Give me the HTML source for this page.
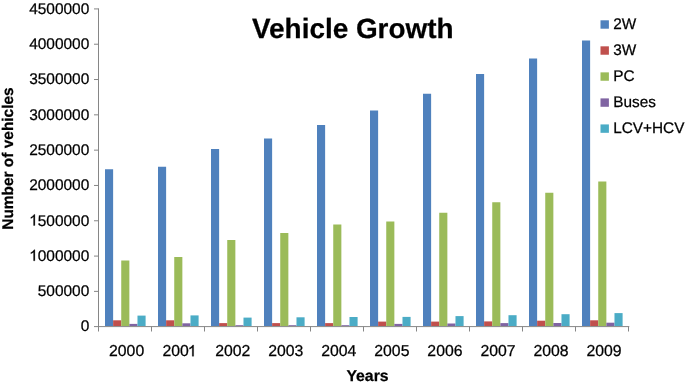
<!DOCTYPE html>
<html><head><meta charset="utf-8"><title>Vehicle Growth</title>
<style>
html,body{margin:0;padding:0;background:#fff;}
body{width:685px;height:384px;overflow:hidden;position:relative;}
svg{position:absolute;left:0;top:0;display:block;will-change:transform;}
text{font-family:"Liberation Sans",sans-serif;fill:#000;stroke:#000;stroke-width:0.25px;text-rendering:geometricPrecision;}
.b{font-weight:bold;}
</style></head><body>
<svg width="685" height="384" viewBox="0 0 685 384">
<rect x="0" y="0" width="685" height="384" fill="#ffffff"/>
<rect x="105.00" y="169.25" width="8.12" height="156.75" fill="#4F81BD"/><rect x="113.12" y="320.30" width="8.12" height="5.70" fill="#C0504D"/><rect x="121.24" y="260.50" width="8.12" height="65.50" fill="#9BBB59"/><rect x="129.36" y="323.90" width="8.12" height="2.10" fill="#8064A2"/><rect x="137.48" y="315.60" width="8.12" height="10.40" fill="#4BACC6"/>
<rect x="158.00" y="166.75" width="8.12" height="159.25" fill="#4F81BD"/><rect x="166.12" y="320.30" width="8.12" height="5.70" fill="#C0504D"/><rect x="174.24" y="257.00" width="8.12" height="69.00" fill="#9BBB59"/><rect x="182.36" y="323.30" width="8.12" height="2.70" fill="#8064A2"/><rect x="190.48" y="315.40" width="8.12" height="10.60" fill="#4BACC6"/>
<rect x="211.00" y="149.00" width="8.12" height="177.00" fill="#4F81BD"/><rect x="219.12" y="323.10" width="8.12" height="2.90" fill="#C0504D"/><rect x="227.24" y="240.00" width="8.12" height="86.00" fill="#9BBB59"/><rect x="235.36" y="325.20" width="8.12" height="0.80" fill="#8064A2"/><rect x="243.48" y="317.60" width="8.12" height="8.40" fill="#4BACC6"/>
<rect x="264.00" y="138.50" width="8.12" height="187.50" fill="#4F81BD"/><rect x="272.12" y="323.10" width="8.12" height="2.90" fill="#C0504D"/><rect x="280.24" y="233.00" width="8.12" height="93.00" fill="#9BBB59"/><rect x="288.36" y="325.20" width="8.12" height="0.80" fill="#8064A2"/><rect x="296.48" y="317.30" width="8.12" height="8.70" fill="#4BACC6"/>
<rect x="317.00" y="125.00" width="8.12" height="201.00" fill="#4F81BD"/><rect x="325.12" y="323.10" width="8.12" height="2.90" fill="#C0504D"/><rect x="333.24" y="224.50" width="8.12" height="101.50" fill="#9BBB59"/><rect x="341.36" y="325.20" width="8.12" height="0.80" fill="#8064A2"/><rect x="349.48" y="317.00" width="8.12" height="9.00" fill="#4BACC6"/>
<rect x="370.00" y="110.50" width="8.12" height="215.50" fill="#4F81BD"/><rect x="378.12" y="321.60" width="8.12" height="4.40" fill="#C0504D"/><rect x="386.24" y="221.50" width="8.12" height="104.50" fill="#9BBB59"/><rect x="394.36" y="323.90" width="8.12" height="2.10" fill="#8064A2"/><rect x="402.48" y="316.90" width="8.12" height="9.10" fill="#4BACC6"/>
<rect x="423.00" y="93.75" width="8.12" height="232.25" fill="#4F81BD"/><rect x="431.12" y="321.60" width="8.12" height="4.40" fill="#C0504D"/><rect x="439.24" y="212.75" width="8.12" height="113.25" fill="#9BBB59"/><rect x="447.36" y="323.50" width="8.12" height="2.50" fill="#8064A2"/><rect x="455.48" y="316.10" width="8.12" height="9.90" fill="#4BACC6"/>
<rect x="476.00" y="74.00" width="8.12" height="252.00" fill="#4F81BD"/><rect x="484.12" y="321.40" width="8.12" height="4.60" fill="#C0504D"/><rect x="492.24" y="202.25" width="8.12" height="123.75" fill="#9BBB59"/><rect x="500.36" y="323.10" width="8.12" height="2.90" fill="#8064A2"/><rect x="508.48" y="315.20" width="8.12" height="10.80" fill="#4BACC6"/>
<rect x="529.00" y="58.50" width="8.12" height="267.50" fill="#4F81BD"/><rect x="537.12" y="320.70" width="8.12" height="5.30" fill="#C0504D"/><rect x="545.24" y="192.75" width="8.12" height="133.25" fill="#9BBB59"/><rect x="553.36" y="323.00" width="8.12" height="3.00" fill="#8064A2"/><rect x="561.48" y="314.20" width="8.12" height="11.80" fill="#4BACC6"/>
<rect x="582.00" y="40.50" width="8.12" height="285.50" fill="#4F81BD"/><rect x="590.12" y="320.30" width="8.12" height="5.70" fill="#C0504D"/><rect x="598.24" y="181.50" width="8.12" height="144.50" fill="#9BBB59"/><rect x="606.36" y="322.70" width="8.12" height="3.30" fill="#8064A2"/><rect x="614.48" y="313.10" width="8.12" height="12.90" fill="#4BACC6"/>
<g stroke="#868686" stroke-width="1" fill="none"><line x1="98.50" y1="8.4" x2="98.50" y2="327.10"/><line x1="94" y1="326.60" x2="629.3" y2="326.60"/><line x1="94" y1="291.39" x2="98.50" y2="291.39"/><line x1="94" y1="256.08" x2="98.50" y2="256.08"/><line x1="94" y1="220.77" x2="98.50" y2="220.77"/><line x1="94" y1="185.46" x2="98.50" y2="185.46"/><line x1="94" y1="150.15" x2="98.50" y2="150.15"/><line x1="94" y1="114.84" x2="98.50" y2="114.84"/><line x1="94" y1="79.53" x2="98.50" y2="79.53"/><line x1="94" y1="44.22" x2="98.50" y2="44.22"/><line x1="94" y1="8.91" x2="98.50" y2="8.91"/><line x1="98.50" y1="326.50" x2="98.50" y2="331.5"/><line x1="151.50" y1="326.50" x2="151.50" y2="331.5"/><line x1="204.50" y1="326.50" x2="204.50" y2="331.5"/><line x1="257.50" y1="326.50" x2="257.50" y2="331.5"/><line x1="310.50" y1="326.50" x2="310.50" y2="331.5"/><line x1="363.50" y1="326.50" x2="363.50" y2="331.5"/><line x1="416.50" y1="326.50" x2="416.50" y2="331.5"/><line x1="469.50" y1="326.50" x2="469.50" y2="331.5"/><line x1="522.50" y1="326.50" x2="522.50" y2="331.5"/><line x1="575.50" y1="326.50" x2="575.50" y2="331.5"/><line x1="628.50" y1="326.50" x2="628.50" y2="331.5"/></g>
<text x="89.3" y="331.45" font-size="15.45" text-anchor="end">0</text><text x="89.3" y="296.14" font-size="15.45" text-anchor="end">500000</text><path transform="translate(29.15,260.83) scale(0.00754,-0.00754)" d="M763 0H583V1147Q518 1085 412.5 1023T223 930V1104Q373 1174.5 485 1275T644 1470H763V0Z" fill="#000" stroke="#000" stroke-width="33.1"/><text x="89.3" y="260.83" font-size="15.45" text-anchor="end">000000</text><path transform="translate(29.15,225.52) scale(0.00754,-0.00754)" d="M763 0H583V1147Q518 1085 412.5 1023T223 930V1104Q373 1174.5 485 1275T644 1470H763V0Z" fill="#000" stroke="#000" stroke-width="33.1"/><text x="89.3" y="225.52" font-size="15.45" text-anchor="end">500000</text><text x="89.3" y="190.21" font-size="15.45" text-anchor="end">2000000</text><text x="89.3" y="154.90" font-size="15.45" text-anchor="end">2500000</text><text x="89.3" y="119.59" font-size="15.45" text-anchor="end">3000000</text><text x="89.3" y="84.28" font-size="15.45" text-anchor="end">3500000</text><text x="89.3" y="48.97" font-size="15.45" text-anchor="end">4000000</text><text x="89.3" y="13.66" font-size="15.45" text-anchor="end">4500000</text>
<text x="126.62" y="356.3" font-size="15.8" text-anchor="middle">2000</text><text x="162.50" y="356.3" font-size="15.8">200</text><path transform="translate(187.76,356.30) scale(0.00771,-0.00771)" d="M763 0H583V1147Q518 1085 412.5 1023T223 930V1104Q373 1174.5 485 1275T644 1470H763V0Z" fill="#000" stroke="#000" stroke-width="32.4"/><text x="232.72" y="356.3" font-size="15.8" text-anchor="middle">2002</text><text x="285.77" y="356.3" font-size="15.8" text-anchor="middle">2003</text><text x="338.83" y="356.3" font-size="15.8" text-anchor="middle">2004</text><text x="391.88" y="356.3" font-size="15.8" text-anchor="middle">2005</text><text x="444.93" y="356.3" font-size="15.8" text-anchor="middle">2006</text><text x="497.98" y="356.3" font-size="15.8" text-anchor="middle">2007</text><text x="551.02" y="356.3" font-size="15.8" text-anchor="middle">2008</text><text x="604.07" y="356.3" font-size="15.8" text-anchor="middle">2009</text>
<text class="b" x="367.5" y="380.5" font-size="15.8" text-anchor="middle">Years</text>
<text class="b" x="352.8" y="38.3" font-size="27.9" text-anchor="middle">Vehicle Growth</text>
<text class="b" transform="translate(13.4,158.55) rotate(-90)" font-size="15.45" text-anchor="middle">Number of vehicles</text>
<rect x="600.5" y="20.30" width="8.4" height="8.4" fill="#4F81BD"/><text x="613.2" y="28.60" font-size="15.35">2W</text><rect x="600.5" y="46.33" width="8.4" height="8.4" fill="#C0504D"/><text x="613.2" y="54.63" font-size="15.35">3W</text><rect x="600.5" y="72.36" width="8.4" height="8.4" fill="#9BBB59"/><text x="613.2" y="80.66" font-size="15.35">PC</text><rect x="600.5" y="98.39" width="8.4" height="8.4" fill="#8064A2"/><text x="613.2" y="106.69" font-size="15.35">Buses</text><rect x="600.5" y="124.42" width="8.4" height="8.4" fill="#4BACC6"/><text x="613.2" y="132.72" font-size="15.35">LCV+HCV</text>
</svg>
</body></html>
